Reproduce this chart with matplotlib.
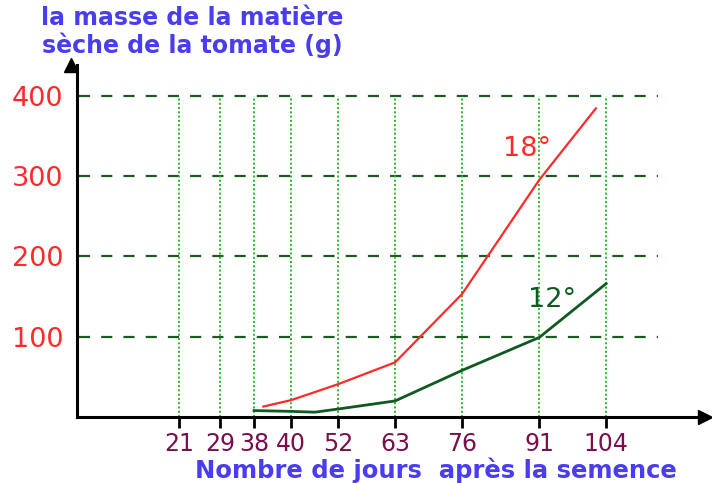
import numpy as np
import matplotlib
matplotlib.use("Agg")
import matplotlib.pyplot as plt

# data
day_ticks = [21, 29, 38, 40, 52, 63, 76, 91, 104]
mass_ticks = [100, 200, 300, 400]

days_18 = [38.5, 40, 52, 63, 76, 91, 102]
mass_18 = [13, 21, 41, 68, 153, 295, 384]

days_12 = [38, 40, 46, 52, 63, 76, 91, 104]
mass_12 = [8, 7, 6, 10, 20, 58, 99, 166]

plt.rcParams['font.family'] = ['DejaVu Sans']

# the drawn axis is not quite linear around 38 / 40
knots_day = [0, 21, 29, 38, 40, 52, 63, 76, 91, 104, 140]
knots_pos = [0, 21, 29, 35.6, 42.8, 52, 63, 76, 91, 104, 140]

def fwd(x):
    return np.interp(x, knots_day, knots_pos)

def inv(x):
    return np.interp(x, knots_pos, knots_day)

fig = plt.figure(figsize=(7.12, 4.83), dpi=100)
ax = fig.add_axes([77/712, (483-417)/483, (705-77)/712, (417-65)/483])
ax.set_xscale('function', functions=(fwd, inv))
ax.set_xlim(1.2, 123.2)
ax.set_ylim(0, 438)

# grid
ax.hlines(mass_ticks, 1.5, 114, colors='#1d5a22', linestyles=(0, (5, 5)), lw=1.6)
ax.vlines(day_ticks, 0, 400, colors='#2bb52b', linestyles=(0, (1, 1.2)), lw=1.4)

ax.plot(days_18, mass_18, color='#ff2a2a', lw=1.6)
ax.plot(days_12, mass_12, color='#0f5a23', lw=2)

ax.text(88.7, 334, '18°', color='#ff2a2a', fontsize=19.5, ha='center', va='center')
ax.text(93.5, 146, '12°', color='#0f5a23', fontsize=19.5, ha='center', va='center')

for s in ['top', 'right']:
    ax.spines[s].set_visible(False)
ax.spines['left'].set_linewidth(2.2)
ax.spines['bottom'].set_linewidth(2.2)
ax.plot(1, 0, '>k', ms=10, transform=ax.get_yaxis_transform(), clip_on=False)
ax.plot(0, 1, '^k', ms=10, transform=ax.get_xaxis_transform(), clip_on=False)

ax.set_xticks(day_ticks)
ax.set_xticklabels([str(d) for d in day_ticks], fontsize=17, color='#7a0f4e')
ax.tick_params(axis='x', length=8, width=2, pad=3)
ax.set_yticks(mass_ticks)
ax.set_yticklabels([str(m) for m in mass_ticks], fontsize=19.5, color='#ff2a2a')
ax.tick_params(axis='y', length=0, pad=10)
ax.minorticks_off()

fig.text(192/712, 1 - 32/483, 'la masse de la matière\nsèche de la tomate (g)',
         ha='center', va='center', fontsize=17, fontweight='bold',
         color='#4a3df0', linespacing=1.1)
fig.text(436/712, 1 - 470/483, 'Nombre de jours  après la semence',
         ha='center', va='center', fontsize=17.5, fontweight='bold', color='#4a3df0')

fig.savefig('out.png', dpi=100)
